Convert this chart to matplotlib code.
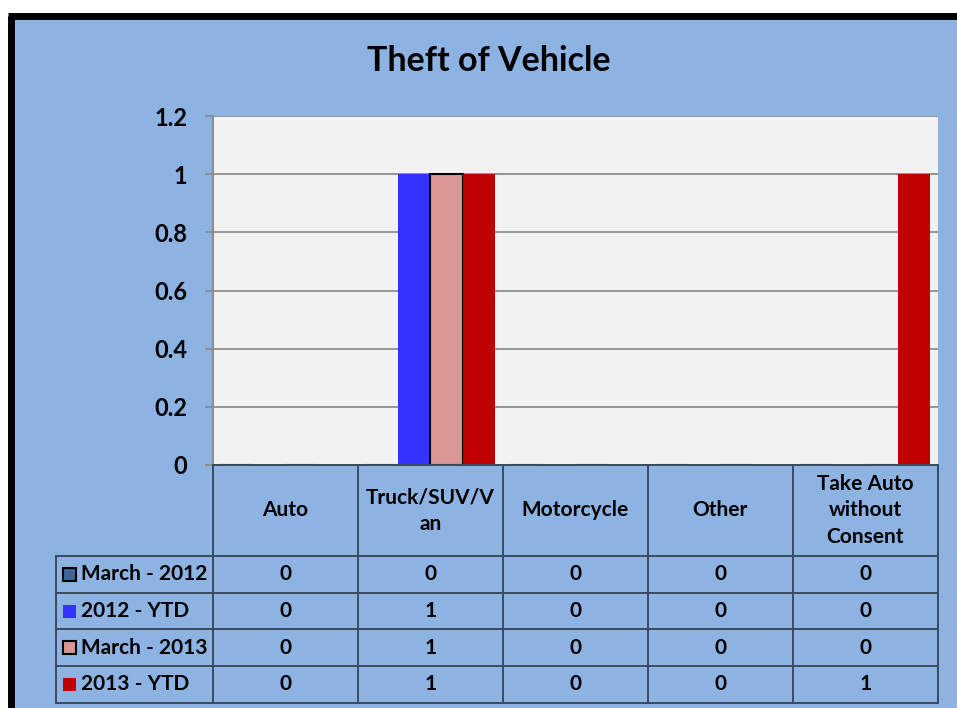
import matplotlib
matplotlib.use("Agg")
import matplotlib.pyplot as plt
from matplotlib.patches import Rectangle
from matplotlib.lines import Line2D
import matplotlib.transforms as mtransforms
import numpy as np

plt.rcParams['font.family'] = ['Lato', 'DejaVu Sans']
plt.rcParams['font.weight'] = 'bold'

title = "Theft of Vehicle"
categories = ["Auto", "Truck/SUV/V\nan", "Motorcycle", "Other", "Take Auto\nwithout\nConsent"]
series_names = ["March - 2012", "2012 - YTD", "March - 2013", "2013 - YTD"]
march_2012 = [0, 0, 0, 0, 0]
ytd_2012 = [0, 1, 0, 0, 0]
march_2013 = [0, 1, 0, 0, 0]
ytd_2013 = [0, 1, 0, 0, 1]
series_values = [march_2012, ytd_2012, march_2013, ytd_2013]
yticks = [0, 0.2, 0.4, 0.6, 0.8, 1, 1.2]
ytick_labels = ["0", "0.2", "0.4", "0.6", "0.8", "1", "1.2"]

colors = ["#3D6595", "#3333FF", "#D99694", "#C00000"]
edges = ["black", "none", "black", "none"]

W, H = 957, 708
fig = plt.figure(figsize=(W / 100, H / 100), dpi=100)
fig.patch.set_facecolor("white")

# chart area background + black border
fig.add_artist(Rectangle((10.5 / W, 0), 1, 1 - 16 / H, transform=fig.transFigure,
                         facecolor="#8DB3E2", edgecolor="none", zorder=0))
fig.add_artist(Line2D([10.5 / W, 10.5 / W], [0, 1 - 16 / H], transform=fig.transFigure,
                      color="black", lw=5, zorder=1, solid_capstyle="butt"))
fig.add_artist(Line2D([8 / W, 1], [1 - 16 / H, 1 - 16 / H], transform=fig.transFigure,
                      color="black", lw=5, zorder=1, solid_capstyle="butt"))

left, right, top, bottom = 212.5, 938, 116, 465
ax = fig.add_axes([left / W, 1 - bottom / H, (right - left) / W, (bottom - top) / H])
ax.set_facecolor("#F2F2F2")
ax.set_xlim(-0.5, len(categories) - 0.5)
ax.set_ylim(0, 1.2)

n = len(series_names)
bw = 0.224
x = np.arange(len(categories))
for i, (vals, c, e) in enumerate(zip(series_values, colors, edges)):
    off = (i - (n - 1) / 2) * bw
    ax.bar(x + off, vals, width=bw, color=c, edgecolor=e if e != "none" else c,
           linewidth=1.5 if e != "none" else 0, zorder=3)

ax.set_yticks(yticks)
ax.set_yticklabels(ytick_labels, fontsize=17, fontweight="bold")
ax.set_xticks([])
ax.yaxis.grid(True, color="#8C8C8C", lw=1.3, zorder=1)
ax.tick_params(axis="y", length=6, width=1.3, color="#8C8C8C", pad=12)
for s in ["top", "right", "bottom"]:
    ax.spines[s].set_visible(False)
ax.spines["left"].set_color("#8C8C8C")
ax.spines["left"].set_linewidth(1.5)
ax.set_axisbelow(True)

# title
fig.text(489 / W, 1 - 61 / H, title, ha="center", va="center", fontsize=24.5, fontweight="bold")

# data table (x in data coords, y in axes coords)
trans = mtransforms.blended_transform_factory(ax.transData, ax.transAxes)
ph = bottom - top
def ay(py):
    return (bottom - py) / ph

row_edges_px = [465, 556, 593, 629, 666, 703]
row_y = [ay(p) for p in row_edges_px]
label_left = (56 - left) / (right - left)
line_kw = dict(color="#3A4A60", lw=1.4, clip_on=False, zorder=5)

# vertical lines at column boundaries
for b in np.arange(len(categories) + 1) - 0.5:
    ax.plot([b, b], [row_y[0], row_y[-1]], transform=trans, **line_kw)
# horizontal lines
ax.plot([-0.5, len(categories) - 0.5], [row_y[0], row_y[0]], transform=trans, **line_kw)
for yy in row_y[1:]:
    ax.plot([label_left, 1], [yy, yy], transform=ax.transAxes, **line_kw)
ax.plot([label_left, label_left], [row_y[1], row_y[-1]], transform=ax.transAxes, **line_kw)

tfs = 15
# header text
for xi, cat in zip(x, categories):
    ax.text(xi, (row_y[0] + row_y[1]) / 2, cat, transform=trans, ha="center", va="center",
            fontsize=tfs, fontweight="bold", linespacing=1.42, clip_on=False)

# rows
sq = 13 / (right - left)
for r, (name, vals, c, e) in enumerate(zip(series_names, series_values, colors, edges)):
    yc = (row_y[r + 1] + row_y[r + 2]) / 2
    sx = (63 - left) / (right - left)
    sqh = 13 / ph
    ax.add_patch(Rectangle((sx, yc - sqh / 2), sq, sqh, transform=ax.transAxes,
                           facecolor=c, edgecolor="black" if e != "none" else c,
                           lw=1.5 if e != "none" else 0, clip_on=False, zorder=6))
    ax.text((81 - left) / (right - left), yc, name, transform=ax.transAxes, ha="left",
            va="center", fontsize=tfs, fontweight="bold", clip_on=False)
    for xi, v in zip(x, vals):
        ax.text(xi, yc, f"{v:g}", transform=trans, ha="center", va="center",
                fontsize=tfs, fontweight="bold", clip_on=False)

fig.savefig("out.png", dpi=100, facecolor=fig.get_facecolor())
